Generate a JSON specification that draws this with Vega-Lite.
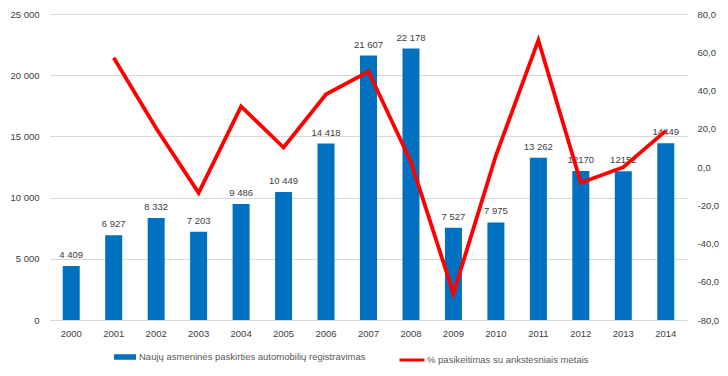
{
  "$schema": "https://vega.github.io/schema/vega-lite/v6.json",
  "width": 637,
  "height": 306,
  "autosize": {"type": "none"},
  "padding": {"left": 50, "top": 14, "right": 41, "bottom": 56},
  "background": "white",
  "config": {
    "locale": {"number": {"decimal": ",", "thousands": " ", "grouping": [3], "currency": ["", ""], "minus": "-"}},
    "view": {"stroke": null},
    "font": "Liberation Sans",
    "axis": {"labelFont": "Liberation Sans", "labelFontSize": 9.5, "labelColor": "#404040", "ticks": false, "domain": false, "title": null},
    "legend": {"labelFont": "Liberation Sans", "labelFontSize": 9.5, "labelColor": "#595959", "padding": 0, "labelLimit": 400}
  },
  "data": {
    "values": [
      {"year": "2000", "value": 4409, "label": "4 409", "pct": null},
      {"year": "2001", "value": 6927, "label": "6 927", "pct": 57.1},
      {"year": "2002", "value": 8332, "label": "8 332", "pct": 20.3},
      {"year": "2003", "value": 7203, "label": "7 203", "pct": -13.5},
      {"year": "2004", "value": 9486, "label": "9 486", "pct": 31.7},
      {"year": "2005", "value": 10449, "label": "10 449", "pct": 10.2},
      {"year": "2006", "value": 14418, "label": "14 418", "pct": 38.0},
      {"year": "2007", "value": 21607, "label": "21 607", "pct": 49.9},
      {"year": "2008", "value": 22178, "label": "22 178", "pct": 2.6},
      {"year": "2009", "value": 7527, "label": "7 527", "pct": -66.1},
      {"year": "2010", "value": 7975, "label": "7 975", "pct": 6.0},
      {"year": "2011", "value": 13262, "label": "13 262", "pct": 66.3},
      {"year": "2012", "value": 12170, "label": "12170", "pct": -8.2},
      {"year": "2013", "value": 12152, "label": "12152", "pct": -0.1},
      {"year": "2014", "value": 14449, "label": "14449", "pct": 18.9}
    ]
  },
  "encoding": {
    "x": {
      "field": "year",
      "type": "ordinal",
      "scale": {"paddingInner": 0.6, "paddingOuter": 0.3},
      "axis": {"labelAngle": 0, "labelPadding": 8, "grid": false}
    }
  },
  "layer": [
    {
      "mark": {"type": "bar"},
      "encoding": {
        "y": {
          "field": "value",
          "type": "quantitative",
          "scale": {"domain": [0, 25000], "nice": false},
          "axis": {"orient": "left", "values": [0, 5000, 10000, 15000, 20000, 25000], "format": ",d", "grid": true, "gridColor": "#D9D9D9", "gridWidth": 1, "labelPadding": 11}
        },
        "fill": {
          "datum": "Naujų asmeninės paskirties automobilių registravimas",
          "type": "nominal",
          "scale": {"range": ["#0070C0"]},
          "legend": {"orient": "none", "legendX": 64, "legendY": 332, "title": null, "symbolType": "M-1,-0.25H1V0.25H-1Z", "symbolSize": 484, "symbolStrokeWidth": 0, "labelOffset": 3}
        }
      }
    },
    {
      "mark": {"type": "text", "baseline": "bottom", "dy": -6, "fontSize": 9.5, "color": "#404040", "font": "Liberation Sans"},
      "encoding": {
        "y": {"field": "value", "type": "quantitative", "scale": {"domain": [0, 25000], "nice": false}, "axis": null},
        "text": {"field": "label"}
      }
    },
    {
      "mark": {"type": "line", "strokeWidth": 3.8},
      "encoding": {
        "y": {
          "field": "pct",
          "type": "quantitative",
          "scale": {"domain": [-80, 80], "nice": false},
          "axis": {"orient": "right", "values": [-80, -60, -40, -20, 0, 20, 40, 60, 80], "format": ".1f", "grid": false, "labelPadding": 10}
        },
        "stroke": {
          "datum": "% pasikeitimas su ankstesniais metais",
          "type": "nominal",
          "scale": {"range": ["#FF0000"]},
          "legend": {"orient": "none", "legendX": 348, "legendY": 332, "title": null, "symbolType": "stroke", "symbolSize": 625, "symbolStrokeWidth": 3, "labelOffset": 1}
        }
      }
    }
  ],
  "resolve": {"scale": {"y": "independent"}}
}
